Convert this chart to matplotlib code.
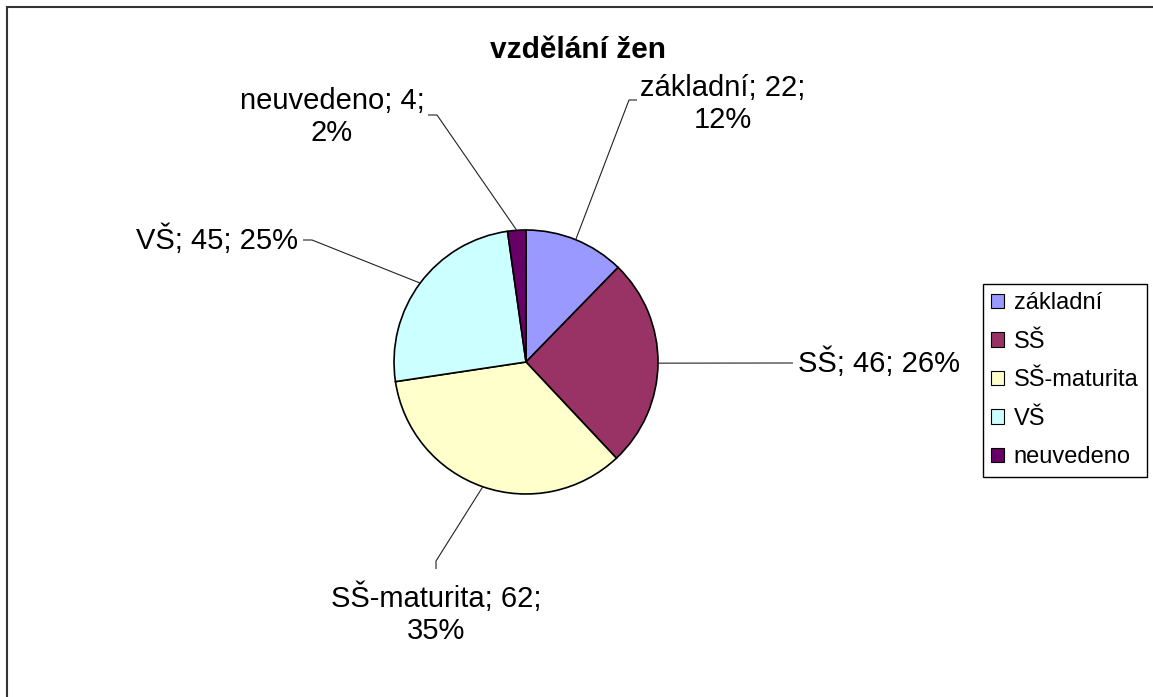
"""Pie chart: vzdělání žen (education of women), Excel-style layout."""
import matplotlib
matplotlib.use("Agg")
import matplotlib.pyplot as plt                                    # noqa: E402
import numpy as np                                                 # noqa: E402
from matplotlib.patches import Patch                               # noqa: E402

W, H = 1153, 697

CATEGORIES = ["základní", "SŠ", "SŠ-maturita", "VŠ", "neuvedeno"]
COUNTS = [22, 46, 62, 45, 4]
COLORS = ["#9999FF", "#993366", "#FFFFCC", "#CCFFFF", "#660066"]
TITLE = "vzdělání žen"

# label layout in pixel coords: (x, y, ha, two_lines, elbow, end)
LABEL_LAYOUT = [
    (723, 104, "center", True, (629, 100), (637, 100)),
    (798, 363, "left", False, None, (793, 363)),
    (436, 614, "center", True, (436, 561), (436, 569)),
    (298, 240, "right", False, (312, 240), (303, 240)),
    (332, 117, "center", True, (437, 115), (428, 115)),
]

plt.rcParams["font.family"] = ["Liberation Sans", "DejaVu Sans"]

fig = plt.figure(figsize=(W / 100, H / 100), dpi=100)
ax = fig.add_axes((0, 0, 1, 1))

cx, cy, r = 526, 362, 132
# y is inverted, so counterclock in data = clockwise on screen
wedges, _ = ax.pie(COUNTS, colors=COLORS, startangle=-90, counterclock=True,
                   center=(cx, cy), radius=r, frame=True,
                   wedgeprops=dict(edgecolor="black", linewidth=1.2))
ax.set_xlim(0, W)
ax.set_ylim(H, 0)
ax.set_aspect("equal")
ax.axis("off")

total = sum(COUNTS)
for w, cat, n, (lx, ly, ha, two, elbow, end) in zip(wedges, CATEGORIES,
                                                      COUNTS, LABEL_LAYOUT):
    pct = round(n / total * 100)
    sep = "\n" if two else " "
    txt = f"{cat}; {n};{sep}{pct}%"
    ax.text(lx, ly, txt, ha=ha, va="center", ma="center", fontsize=21,
            linespacing=1.17, color="black")
    mid = np.deg2rad((w.theta1 + w.theta2) / 2)
    sx, sy = cx + r * np.cos(mid), cy + r * np.sin(mid)
    pts = [(sx, sy)] + ([elbow] if elbow else []) + [end]
    xs, ys = zip(*pts)
    ax.plot(xs, ys, color="#222222", lw=0.8, solid_capstyle="butt")

ax.text(578, 58, TITLE, ha="center", va="baseline", fontsize=21.5,
        fontweight="bold")

handles = [Patch(facecolor=c, edgecolor="black", linewidth=0.8)
           for c in COLORS]
leg = fig.legend(handles, CATEGORIES, loc="upper left",
                 bbox_to_anchor=(983 / W, 1 - 284 / H), fontsize=17,
                 frameon=True, fancybox=False, edgecolor="black",
                 framealpha=1, borderpad=0.35, labelspacing=0.7,
                 handlelength=0.55, handleheight=0.55, handletextpad=0.4,
                 borderaxespad=0)
leg.get_frame().set_linewidth(1.0)

# outer chart-area frame (right and bottom edges cropped off)
ax.plot([6.5, 6.5, W], [H, 6.5, 6.5], color="#333333", lw=1.5,
        solid_joinstyle="miter")

fig.savefig("out.png", dpi=100)
